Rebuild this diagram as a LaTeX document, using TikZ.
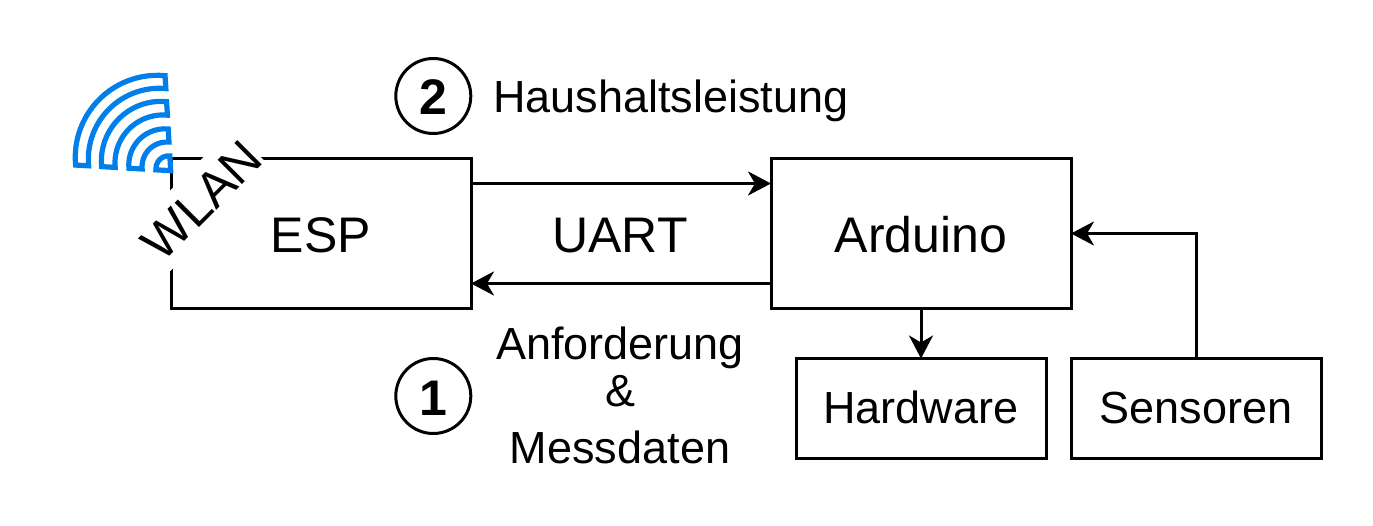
\documentclass[tikz,border=0pt]{standalone}
\usepackage{fontspec}
\setmainfont{Liberation Sans}
\usetikzlibrary{arrows.meta}
\definecolor{wifi}{RGB}{0,127,235}
\tikzset{
  box/.style={draw=black,line width=3pt,fill=white,inner sep=0pt,outer sep=0pt,minimum width=#1},
  big/.style={font=\fontsize{50}{50}\selectfont,text height=38.4pt,text depth=0pt},
  mid/.style={font=\fontsize{45}{45}\selectfont,text height=29pt,text depth=0pt},
  txt/.style={font=\fontsize{45}{45}\selectfont,inner sep=0pt,anchor=base},
  num/.style={draw=black,line width=3pt,circle,minimum size=75pt,inner sep=0pt,outer sep=0pt,font=\bfseries\fontsize{50}{50}\selectfont,text height=38pt,text depth=0pt},
  arr/.style={line width=3pt,-{Stealth[length=23pt,width=24pt,inset=7pt]}},
  ring/.style={draw=wifi,line width=5.2pt,line join=miter,fill=white},
}
\newcommand{\wifiring}[2]{%
  \draw[ring] (93.4:#1) arc[start angle=84.6,end angle=185.4,radius=0.8621*#1] -- (176.6:#2) arc[start angle=185.4,end angle=84.6,radius=0.8621*#2] -- cycle;}
\begin{document}
\begin{tikzpicture}[x=1pt,y=1pt]
\useasboundingbox (0,0) rectangle (1373,525);
\node[box=300pt,minimum height=150pt,big] (esp) at (321,291.5) {ESP};
\node[box=300pt,minimum height=150pt,big] (ard) at (921,291.5) {Arduino};
\node[box=250pt,minimum height=100pt,mid] (hw) at (921,116.5) {Hardware};
\node[box=250pt,minimum height=100pt,mid] (sen) at (1196,116.5) {Sensoren};
\node[num] (two) at (433.3,429) {2};
\node[num] (one) at (433.3,129) {1};
\node[txt,anchor=base west] (haus) at (493,412.3) {Haushaltsleistung};
\node[txt,font=\fontsize{50}{50}\selectfont] (uart) at (620,272) {UART};
\node[txt] (anf1) at (620,165) {Anforderung};
\node[txt] (anf2) at (620,118) {\&};
\node[txt] (anf3) at (620,62) {Messdaten};
\node[fill=white,inner sep=0pt,rotate=45,font=\fontsize{50}{50}\selectfont,text height=46.7pt,text depth=10.3pt] (wlan) at (201.2,325.2) {WLAN};
\begin{scope}[shift={(170.7,354.3)}]
\wifiring{95.2}{82.2}
\wifiring{69.2}{55.6}
\wifiring{41.8}{28.6}
\draw[ring] (0,0) -- (93.4:14.8) arc[start angle=84.6,end angle=185.4,radius=0.8621*14.8] -- cycle;
\end{scope}
\draw[arr] ([yshift=50pt]esp.east) -- ([yshift=50pt]ard.west);
\draw[arr] ([yshift=-50pt]ard.west) -- ([yshift=-50pt]esp.east);
\draw[arr] (ard.south) -- (hw.north);
\draw[arr] (sen.north) |- (ard.east);
\end{tikzpicture}
\end{document}
